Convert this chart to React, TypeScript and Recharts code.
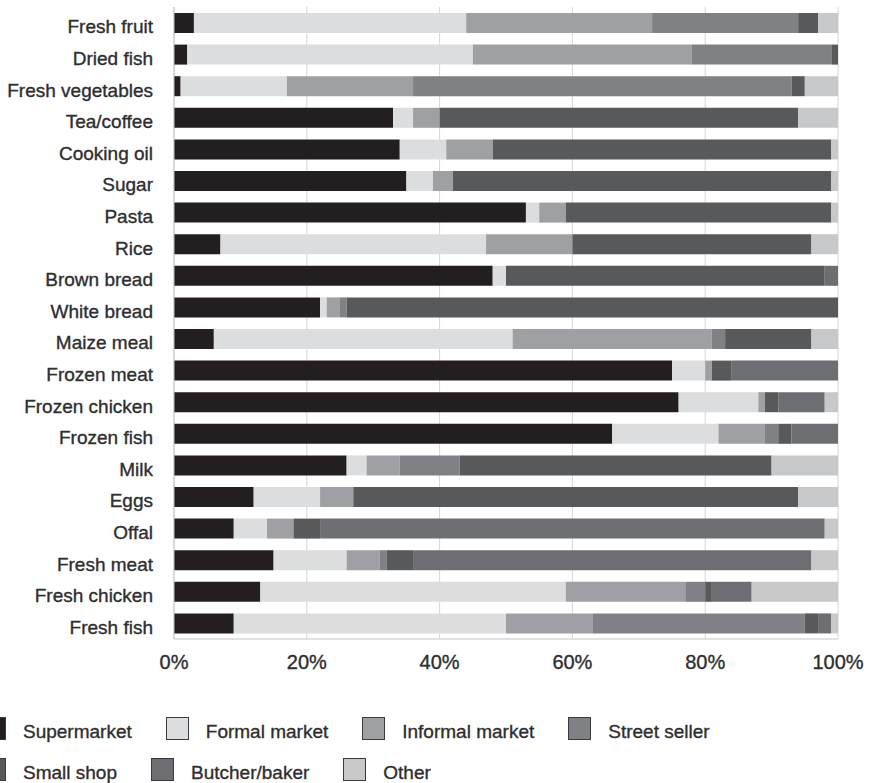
import { Bar, BarChart, CartesianGrid, XAxis, YAxis } from "recharts";

const CATEGORIES = [
  "Fresh fruit", "Dried fish", "Fresh vegetables", "Tea/coffee", "Cooking oil",
  "Sugar", "Pasta", "Rice", "Brown bread", "White bread",
  "Maize meal", "Frozen meat", "Frozen chicken", "Frozen fish", "Milk",
  "Eggs", "Offal", "Fresh meat", "Fresh chicken", "Fresh fish",
];

const SUPERMARKET   = [3, 2, 1, 33, 34, 35, 53, 7, 48, 22, 6, 75, 76, 66, 26, 12, 9, 15, 13, 9];
const FORMAL_MARKET = [41, 43, 16, 3, 7, 4, 2, 40, 2, 1, 45, 5, 12, 16, 3, 10, 5, 11, 46, 41];
const INFORMAL_MKT  = [28, 33, 19, 4, 7, 3, 4, 13, 0, 2, 30, 1, 1, 7, 5, 5, 4, 5, 18, 13];
const STREET_SELLER = [22, 21, 57, 0, 0, 0, 0, 0, 0, 1, 2, 0, 0, 2, 9, 0, 0, 1, 3, 32];
const SMALL_SHOP    = [3, 1, 2, 54, 51, 57, 40, 36, 48, 74, 13, 3, 2, 2, 47, 67, 4, 4, 1, 2];
const BUTCHER_BAKER = [0, 0, 0, 0, 0, 0, 0, 0, 2, 0, 0, 16, 7, 7, 0, 0, 76, 60, 6, 2];
const OTHER         = [3, 0, 5, 6, 1, 1, 1, 4, 0, 0, 4, 0, 2, 0, 10, 6, 2, 4, 13, 1];

const X_TICKS = [0, 20, 40, 60, 80, 100];

const SERIES = [
  { key: "supermarket", label: "Supermarket",     color: "#231f20", values: SUPERMARKET },
  { key: "formal",      label: "Formal market",   color: "#dcdddf", values: FORMAL_MARKET },
  { key: "informal",    label: "Informal market", color: "#9fa0a3", values: INFORMAL_MKT },
  { key: "street",      label: "Street seller",   color: "#808184", values: STREET_SELLER },
  { key: "smallshop",   label: "Small shop",      color: "#58595b", values: SMALL_SHOP },
  { key: "butcher",     label: "Butcher/baker",   color: "#6d6e71", values: BUTCHER_BAKER },
  { key: "other",       label: "Other",           color: "#c7c8ca", values: OTHER },
];

const data = CATEGORIES.map((name, i) => {
  const row: Record<string, string | number> = { name };
  SERIES.forEach((s) => { row[s.key] = s.values[i]; });
  return row;
});

const FONT = "'Liberation Sans', Arial, Helvetica, sans-serif";
const TEXT = "#2e2e2e";

// category labels sit a little below bar centre, as in the source
function CatTick({ x, y, payload }: any) {
  return (
    <text x={x} y={y} dy={10.5} textAnchor="end" fontSize={19} fill={TEXT}
      stroke={TEXT} strokeWidth={0.35} fontFamily={FONT}>
      {payload.value}
    </text>
  );
}

function PctTick({ x, y, payload }: any) {
  return (
    <text x={x} y={y} dy={30} textAnchor="middle" fontSize={20} fill={TEXT}
      stroke={TEXT} strokeWidth={0.35} fontFamily={FONT}>
      {`${payload.value}%`}
    </text>
  );
}

function LegendItem({ label, color }: { label: string; color: string }) {
  return (
    <div style={{ display: "flex", alignItems: "flex-end", marginRight: 34 }}>
      <div style={{ width: 21, height: 21, background: color, border: "1px solid #3a3a3a", marginRight: 17 }} />
      <span style={{
        fontSize: 19, color: TEXT, fontFamily: FONT, lineHeight: "19px",
        position: "relative", top: 1, WebkitTextStroke: `0.35px ${TEXT}`,
      }}>
        {label}
      </span>
    </div>
  );
}

export default function App() {
  const row1 = SERIES.slice(0, 4);
  const row2 = SERIES.slice(4);
  return (
    <div style={{ position: "absolute", left: 0, top: 0, width: 870, height: 783, overflow: "hidden", background: "#fff" }}>
      <BarChart
        width={870} height={690} data={data} layout="vertical"
        margin={{ top: 7, right: 32, bottom: 0, left: 0 }}
        barSize={20}
      >
        <CartesianGrid horizontal={false} stroke="#d6d6d6" />
        <XAxis
          type="number" domain={[0, 100]} ticks={X_TICKS} interval={0}
          tick={<PctTick />} tickLine={false} tickSize={0} tickMargin={0}
          axisLine={{ stroke: "#e2e2e2", strokeWidth: 2 }} height={51}
        />
        <YAxis
          type="category" dataKey="name" width={174} interval={0}
          tick={<CatTick />} tickLine={false} tickSize={0} tickMargin={21}
          axisLine={{ stroke: "#c4c4c4" }}
        />
        {SERIES.map((s) => (
          <Bar key={s.key} dataKey={s.key} stackId="a" fill={s.color} isAnimationActive={false} />
        ))}
      </BarChart>
      <div style={{ position: "absolute", left: -17, top: 717, display: "flex" }}>
        {row1.map((s) => <LegendItem key={s.key} label={s.label} color={s.color} />)}
      </div>
      <div style={{ position: "absolute", left: -17, top: 758, display: "flex" }}>
        {row2.map((s) => <LegendItem key={s.key} label={s.label} color={s.color} />)}
      </div>
    </div>
  );
}
